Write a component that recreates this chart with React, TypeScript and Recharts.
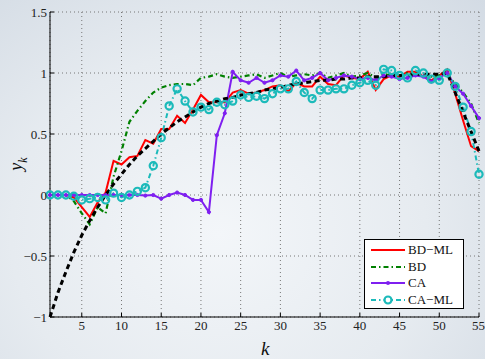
import { LineChart, Line, XAxis, YAxis, CartesianGrid } from "recharts";

const ks = [
  1, 2, 3, 4, 5, 6, 7, 8, 9, 10, 11, 12, 13, 14, 15, 16, 17, 18, 19, 20,
  21, 22, 23, 24, 25, 26, 27, 28, 29, 30, 31, 32, 33, 34, 35, 36, 37, 38, 39, 40,
  41, 42, 43, 44, 45, 46, 47, 48, 49, 50, 51, 52, 53, 54, 55,
];

const reference = [
  -1, -0.8, -0.63, -0.47, -0.33, -0.21, -0.1, 0, 0.09, 0.17, 0.25, 0.32, 0.38, 0.44, 0.5, 0.55, 0.6, 0.64, 0.68, 0.72,
  0.75, 0.77, 0.79, 0.8, 0.82, 0.83, 0.84, 0.86, 0.87, 0.88, 0.9, 0.91, 0.92, 0.93, 0.94, 0.94, 0.95, 0.95, 0.96, 0.96,
  0.97, 0.97, 0.97, 0.98, 0.98, 0.98, 0.99, 0.99, 0.99, 0.99, 1.0, 0.84, 0.68, 0.52, 0.36,
];

const bdMl = [
  0, 0, 0, -0.02, -0.1, -0.18, -0.06, 0.02, 0.28, 0.25, 0.31, 0.32, 0.45, 0.42, 0.54, 0.54, 0.65, 0.59, 0.7, 0.82,
  0.76, 0.76, 0.76, 0.84, 0.86, 0.83, 0.84, 0.86, 0.89, 0.9, 0.85, 0.92, 0.89, 0.89, 0.97, 0.91, 0.9, 0.98, 0.96, 0.95,
  1.01, 0.86, 0.95, 0.98, 0.97, 1.01, 1.01, 0.97, 0.94, 0.98, 1.03, 0.83, 0.61, 0.4, 0.36,
];

const bd = [
  0, 0, 0, -0.05, -0.15, -0.24, -0.1, -0.15, 0.15, 0.36, 0.6, 0.69, 0.77, 0.84, 0.88, 0.9, 0.91, 0.91, 0.9, 0.96,
  0.97, 0.99, 0.97, 0.96, 0.97, 0.98, 0.99, 0.96, 0.98, 1.0, 0.97, 0.98, 0.99, 0.98, 1.0, 0.96, 0.98, 1.0, 0.97, 0.98,
  1.0, 0.96, 0.99, 0.98, 0.98, 1.0, 0.99, 0.98, 0.97, 0.98, 0.99, 0.91, 0.84, 0.75, 0.59,
];

const ca = [
  0, 0, 0, 0, 0, 0, 0, 0, 0, 0, 0, 0, -0.005, 0, -0.03, 0, 0.02, 0, -0.04, -0.04,
  -0.14, 0.49, 0.67, 1.01, 0.94, 0.92, 0.96, 0.92, 0.94, 0.98, 0.97, 1.02, 0.94, 0.96, 1.0, 0.94, 0.96, 0.98, 0.97, 0.95,
  0.96, 0.94, 0.98, 0.97, 0.95, 0.96, 0.98, 0.97, 0.93, 0.96, 1.0, 0.89, 0.83, 0.73, 0.63,
];

const caMl = [
  0, 0, 0, -0.01, -0.04, -0.03, -0.02, -0.04, 0.015, -0.02, 0, 0.03, 0.06, 0.24, 0.47, 0.73, 0.87, 0.77, 0.68, 0.72,
  0.7, 0.76, 0.74, 0.77, 0.82, 0.8, 0.81, 0.79, 0.83, 0.87, 0.87, 0.93, 0.84, 0.79, 0.86, 0.86, 0.87, 0.87, 0.9, 0.92,
  0.94, 0.9, 1.03, 1.02, 0.98, 0.96, 1.02, 1.0, 0.95, 0.94, 1.0, 0.89, 0.72, 0.52, 0.17,
];

const xTicks = [5, 10, 15, 20, 25, 30, 35, 40, 45, 50, 55];
const yTicks = [-1, -0.5, 0, 0.5, 1, 1.5];

const data = ks.map((k, i) => ({
  k,
  ref: reference[i],
  bdMl: bdMl[i],
  bd: bd[i],
  ca: ca[i],
  caMl: caMl[i],
}));

const fmt = (v: number) => String(v).replace("-", "\u2212");

const font = "'Liberation Serif', 'DejaVu Serif', serif";

const legendItems = [
  { name: "BD\u2212ML", color: "#ff0000", dash: "", marker: "" },
  { name: "BD", color: "#008000", dash: "5 3 1.5 3", marker: "" },
  { name: "CA", color: "#7f1ff0", dash: "", marker: "dot" },
  { name: "CA\u2212ML", color: "#1cbaba", dash: "5 3 1.5 3", marker: "circle" },
];

export default function App() {
  return (
    <div
      style={{
        position: "absolute",
        left: 0,
        top: 0,
        width: 485,
        height: 359,
        background:
          "radial-gradient(ellipse at 45% 65%, #f3f6f9 0%, #e6ebf0 55%, #d3dbe4 100%)",
        fontFamily: font,
      }}
    >
      <LineChart
        width={485}
        height={359}
        data={data}
        margin={{ top: 12, right: 6, bottom: 0, left: 0 }}
      >
        <CartesianGrid stroke="#777" strokeDasharray="1 3" />
        <XAxis
          dataKey="k"
          type="number"
          domain={[1, 55]}
          ticks={xTicks}
          height={42}
          stroke="#000"
          tickSize={-4}
          tickMargin={8}
          tick={{ fill: "#222", fontSize: 13, fontFamily: font }}
        />
        <YAxis
          type="number"
          domain={[-1, 1.5]}
          ticks={yTicks}
          width={50}
          stroke="#000"
          tickSize={-4}
          tickMargin={7}
          tickFormatter={fmt}
          tick={{ fill: "#222", fontSize: 13, fontFamily: font }}
        />
        <Line
          dataKey="bdMl"
          stroke="#ff0000"
          strokeWidth={2}
          dot={false}
          isAnimationActive={false}
        />
        <Line
          dataKey="bd"
          stroke="#008000"
          strokeWidth={2.2}
          strokeDasharray="5 3 1.5 3"
          dot={false}
          isAnimationActive={false}
        />
        <Line
          dataKey="ca"
          stroke="#7f1ff0"
          strokeWidth={2}
          dot={{ r: 1.6, fill: "#7f1ff0", stroke: "#7f1ff0", strokeWidth: 1 }}
          isAnimationActive={false}
        />
        <Line
          dataKey="caMl"
          stroke="#1cbaba"
          strokeWidth={2}
          strokeDasharray="5 3 1.5 3"
          dot={{ r: 3.6, fill: "none", stroke: "#1cbaba", strokeWidth: 2.2, strokeDasharray: "" }}
          isAnimationActive={false}
        />
        <Line
          dataKey="ref"
          stroke="#000"
          strokeWidth={3}
          strokeDasharray="5 3.5"
          dot={false}
          isAnimationActive={false}
        />
      </LineChart>

      <div
        style={{
          position: "absolute",
          left: 5,
          top: 152,
          width: 22,
          height: 24,
          transform: "rotate(-90deg)",
          transformOrigin: "center",
          fontSize: 18,
          fontStyle: "italic",
          color: "#111",
          lineHeight: "24px",
          textAlign: "center",
        }}
      >
        y<sub style={{ fontSize: 12 }}>k</sub>
      </div>
      <div
        style={{
          position: "absolute",
          left: 261,
          top: 338,
          fontSize: 19,
          fontStyle: "italic",
          color: "#111",
        }}
      >
        k
      </div>

      <div
        style={{
          position: "absolute",
          left: 364,
          top: 239,
          width: 100,
          height: 70,
          background: "#fff",
          border: "1px solid #000",
          boxSizing: "border-box",
          paddingTop: 2,
        }}
      >
        {legendItems.map((it) => (
          <div
            key={it.name}
            style={{ display: "flex", alignItems: "center", height: 16.5 }}
          >
            <svg width={38} height={12} style={{ marginLeft: 4 }}>
              <line
                x1={2}
                x2={36}
                y1={6}
                y2={6}
                stroke={it.color}
                strokeWidth={2}
                strokeDasharray={it.dash || undefined}
              />
              {it.marker === "dot" && <circle cx={19} cy={6} r={2} fill={it.color} />}
              {it.marker === "circle" && (
                <circle cx={19} cy={6} r={3.5} fill="#fff" stroke={it.color} strokeWidth={2.2} />
              )}
            </svg>
            <span style={{ fontSize: 13, color: "#111", marginLeft: 1 }}>{it.name}</span>
          </div>
        ))}
      </div>
    </div>
  );
}
